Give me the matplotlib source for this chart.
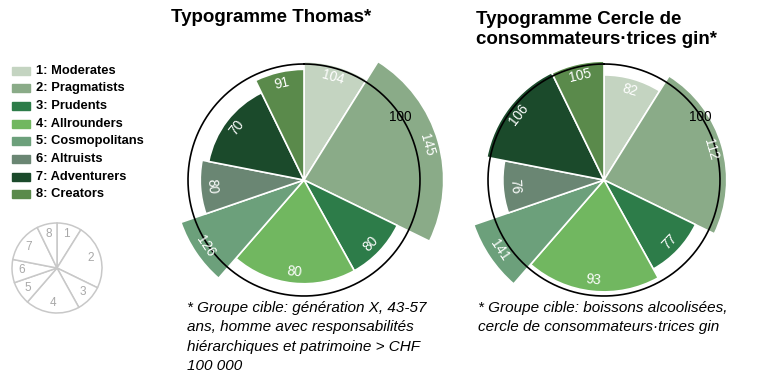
import numpy as np
import matplotlib
matplotlib.use("Agg")
import matplotlib.pyplot as plt
from matplotlib.patches import Rectangle

plt.rcParams['font.family'] = ['Liberation Sans', 'DejaVu Sans']

# ---- data ----
segments = ["1: Moderates", "2: Pragmatists", "3: Prudents", "4: Allrounders",
            "5: Cosmopolitans", "6: Altruists", "7: Adventurers", "8: Creators"]
segment_numbers = ["1", "2", "3", "4", "5", "6", "7", "8"]
segment_share_deg = [32, 84, 35, 70, 30, 30, 53, 26]   # angular width of each segment
thomas_values = [104, 145, 80, 80, 126, 80, 70, 91]
gin_values = [82, 112, 77, 93, 141, 76, 106, 105]
colors = ["#c4d4c1", "#8aab88", "#2d7c49", "#71b760",
          "#6ca07b", "#6a8673", "#1b4a2b", "#5a8a4b"]

title_thomas = "Typogramme Thomas*"
title_gin = "Typogramme Cercle de\nconsommateurs\u00b7trices gin*"
note_thomas = ("* Groupe cible: génération X, 43-57\nans, homme avec responsabilités\n"
               "hiérarchiques et patrimoine > CHF\n100 000")
note_gin = "* Groupe cible: boissons alcoolisées,\ncercle de consommateurs\u00b7trices gin"

W, H = 768, 390
fig = plt.figure(figsize=(W / 100, H / 100), dpi=100)

widths = np.deg2rad(segment_share_deg)
starts = np.concatenate([[0], np.cumsum(widths)[:-1]])
centers = starts + widths / 2

R100 = 116.0   # pixel radius of index 100
RMAX = 1.3


def polar_axes(cx, cy, rpix, rmax):
    half = rpix * rmax
    ax = fig.add_axes([(cx - half) / W, (H - cy - half) / H, 2 * half / W, 2 * half / H],
                      projection='polar')
    ax.set_theta_zero_location('N')
    ax.set_theta_direction(-1)
    ax.set_ylim(0, rmax)
    ax.axis('off')
    ax.patch.set_alpha(0)
    return ax


def typo_chart(cx, cy, values):
    ax = polar_axes(cx, cy, R100, RMAX)
    heights = np.sqrt(np.array(values) / 100.0)
    ax.bar(centers, heights, width=widths, bottom=0, align='center',
           color=colors, edgecolor='white', linewidth=1.2, zorder=2)
    th = np.linspace(0, 2 * np.pi, 400)
    ax.plot(th, np.ones_like(th), color='black', lw=1.2, zorder=3)
    for c, h, v in zip(centers, heights, values):
        deg = np.rad2deg(c)
        rot = 180 - deg if 90 < deg < 270 else -deg
        ax.text(c, h - 0.1, str(v), color='white', fontsize=9.8,
                rotation=rot, rotation_mode='anchor', ha='center', va='center', zorder=4)
    ax.text(np.deg2rad(57), 0.99, "100", color='black', fontsize=9.8,
            ha='center', va='center', zorder=5)
    return ax


typo_chart(304, 180, thomas_values)
typo_chart(604, 180, gin_values)

# small key pie
kax = polar_axes(57, 268, 45, 1.05)
kax.bar(centers, np.ones(len(centers)), width=widths, bottom=0, align='center',
        color='white', edgecolor='#c8c8c8', linewidth=1.1)
for c, n in zip(centers, segment_numbers):
    kax.text(c, 0.78, n, color='#a8a8a8', fontsize=8.5, ha='center', va='center')

# overlay axes in pixel coordinates for texts and legend
tax = fig.add_axes([0, 0, 1, 1])
tax.set_xlim(0, W)
tax.set_ylim(H, 0)
tax.axis('off')
tax.patch.set_alpha(0)

tax.text(171, 17, title_thomas, fontsize=13.5, fontweight='bold', ha='left', va='center')
tax.text(476, 29.5, title_gin, fontsize=13.5, fontweight='bold', ha='left', va='center',
         linespacing=1.22)

tax.text(187, 301, note_thomas, fontsize=11, style='italic', ha='left', va='top',
         linespacing=1.5)
tax.text(478, 301, note_gin, fontsize=11, style='italic', ha='left', va='top',
         linespacing=1.5)

for i, (lab, col) in enumerate(zip(segments, colors)):
    y = 70.5 + i * 17.7
    tax.add_patch(Rectangle((12, y - 4), 18, 8, color=col))
    tax.text(36, y, lab, fontsize=9.3, fontweight='bold', ha='left', va='center')

fig.savefig("out.png", dpi=100)
